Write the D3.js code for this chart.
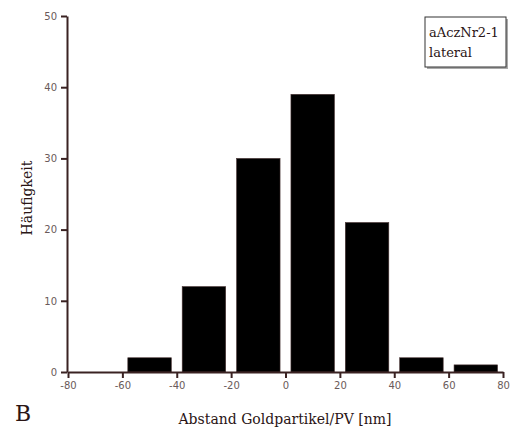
<!DOCTYPE html>
<html>
<head>
<meta charset="utf-8">
<script src="https://cdn.jsdelivr.net/npm/d3@7"></script>
<style>
  body { margin: 0; background: #fff; }
  .tick text { font-family: 'DejaVu Sans', sans-serif; font-size: 10px; fill: #6a5a5a; }
  .axis path, .axis line { stroke: #3a2222; stroke-width: 2px; }
  .title { font-family: 'DejaVu Serif', 'Liberation Serif', serif; fill: #2a1515; }
</style>
</head>
<body>
<div id="chart"></div>
<script>
// Histogram bins (lower edge, nm) and counts
let binStarts = [-80, -60, -40, -20, 0, 20, 40, 60];
let binWidth = 20;
let counts = [0, 2, 12, 30, 39, 21, 2, 1];
let xTicks = [-80, -60, -40, -20, 0, 20, 40, 60, 80];
let yTicks = [0, 10, 20, 30, 40, 50];
let legendLines = ['aAczNr2-1', 'lateral'];

let width = 515, height = 438;
let margin = {top: 16, left: 67, right: 12, bottom: 66};

let svg = d3.select('#chart')
    .append('svg')
        .attr('width', width)
        .attr('height', height);

let scX = d3.scaleLinear().domain([-80, 80]).range([margin.left + 1, width - margin.right]);
let scY = d3.scaleLinear().domain([0, 50]).range([height - margin.bottom, margin.top]);

// Bars (inset 2 units on each side of the bin)
let inset = 2;
svg.selectAll('rect.bar')
    .data(binStarts.map((b, i) => ({start: b, n: counts[i]})).filter(d => d.n > 0))
    .enter()
    .append('rect')
        .attr('class', 'bar')
        .attr('x', d => scX(d.start + inset))
        .attr('width', d => scX(d.start + binWidth - inset) - scX(d.start + inset))
        .attr('y', d => scY(d.n))
        .attr('height', d => scY(0) - scY(d.n))
        .attr('fill', '#000')
        .attr('stroke', '#4a3535')
        .attr('stroke-width', 0.6);

// Axes (plain hyphen for negatives, like the original)
svg.append('g')
    .attr('class', 'axis x-axis')
    .attr('transform', `translate(0,${scY(0)})`)
    .call(d3.axisBottom(scX).tickValues(xTicks).tickFormat(d => String(d))
        .tickSize(6).tickSizeOuter(0).tickPadding(4));
svg.append('g')
    .attr('class', 'axis y-axis')
    .attr('transform', `translate(${margin.left},0)`)
    .call(d3.axisLeft(scY).tickValues(yTicks).tickFormat(d => String(d))
        .tickSize(6).tickSizeOuter(0).tickPadding(4));

// Axis titles
svg.append('text')
    .attr('class', 'title')
    .attr('x', 285)
    .attr('y', 424)
    .attr('text-anchor', 'middle')
    .style('font-size', '14px')
    .text('Abstand Goldpartikel/PV [nm]');
svg.append('text')
    .attr('class', 'title')
    .attr('transform', 'rotate(-90)')
    .attr('x', -198)
    .attr('y', 32)
    .attr('text-anchor', 'middle')
    .style('font-size', '14px')
    .text('Häufigkeit');

// Panel letter
svg.append('text')
    .attr('class', 'title')
    .attr('x', 15)
    .attr('y', 421)
    .style('font-size', '22px')
    .text('B');

// Legend box with shadow
let lg = svg.append('g').attr('transform', 'translate(425,17)');
lg.append('rect')
    .attr('x', 2).attr('y', 2)
    .attr('width', 81).attr('height', 50)
    .attr('fill', '#aaa');
lg.append('rect')
    .attr('width', 81).attr('height', 50)
    .attr('fill', '#fff')
    .attr('stroke', '#333')
    .attr('stroke-width', 1);
lg.selectAll('text')
    .data(legendLines)
    .enter()
    .append('text')
        .attr('class', 'title')
        .attr('x', 4)
        .attr('y', (d, i) => 20 + i * 20)
        .style('font-size', '13px')
        .text(d => d);
</script>
</body>
</html>
